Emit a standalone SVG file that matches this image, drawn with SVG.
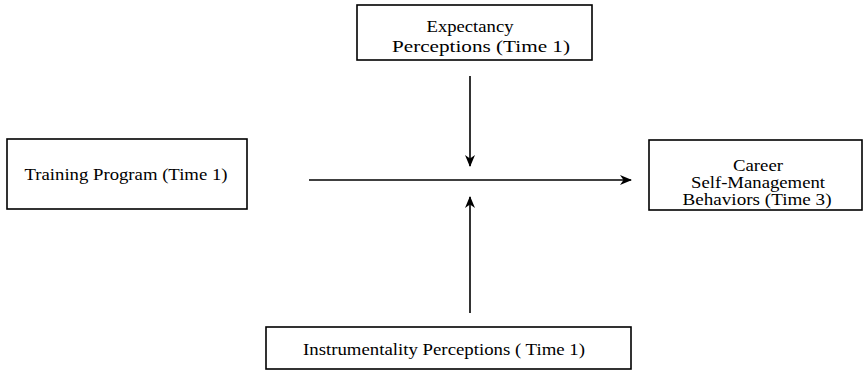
<svg xmlns="http://www.w3.org/2000/svg" width="864" height="374" viewBox="0 0 864 374">
<defs>
<marker id="ah" viewBox="0 0 12 10" refX="11" refY="5" markerWidth="12" markerHeight="10" markerUnits="userSpaceOnUse" orient="auto">
<path d="M0,0 L12,5 L0,10 L3.5,5 Z" fill="#000"/>
</marker>
</defs>
<style>
.box{fill:#fff;stroke:#000;stroke-width:1.6}
.t{font-family:"Liberation Serif",serif;font-size:17.5px;fill:#000;text-anchor:middle}
.s{font-size:16px}
.c{stroke:#000;stroke-width:1.6;fill:none}
</style>
<rect width="864" height="374" fill="#fff"/>
<g id="expectancy">
<rect class="box" x="357" y="5" width="235" height="55"/>
<text class="t" x="470" y="32" textLength="87" lengthAdjust="spacingAndGlyphs">Expectancy</text>
<text class="t" x="481" y="52" textLength="178" lengthAdjust="spacingAndGlyphs">Perceptions (Time 1)</text>
</g>
<g id="training">
<rect class="box" x="7" y="139" width="240" height="70"/>
<text class="t" x="126" y="180" textLength="203" lengthAdjust="spacingAndGlyphs">Training Program (Time 1)</text>
</g>
<g id="career">
<rect class="box" x="649" y="140" width="213" height="70"/>
<text class="t s" x="758" y="171" textLength="50" lengthAdjust="spacingAndGlyphs">Career</text>
<text class="t s" x="758" y="188" textLength="134" lengthAdjust="spacingAndGlyphs">Self-Management</text>
<text class="t s" x="757" y="205" textLength="149" lengthAdjust="spacingAndGlyphs">Behaviors (Time 3)</text>
</g>
<g id="instrumentality">
<rect class="box" x="266" y="327" width="365" height="42"/>
<text class="t" x="444" y="355" textLength="282" lengthAdjust="spacingAndGlyphs">Instrumentality Perceptions ( Time 1)</text>
</g>
<g id="connectors">
<line class="c" x1="309" y1="180" x2="631" y2="180" marker-end="url(#ah)"/>
<line class="c" x1="470" y1="76" x2="470" y2="166" marker-end="url(#ah)"/>
<line class="c" x1="470" y1="313" x2="470" y2="197" marker-end="url(#ah)"/>
</g>
</svg>
